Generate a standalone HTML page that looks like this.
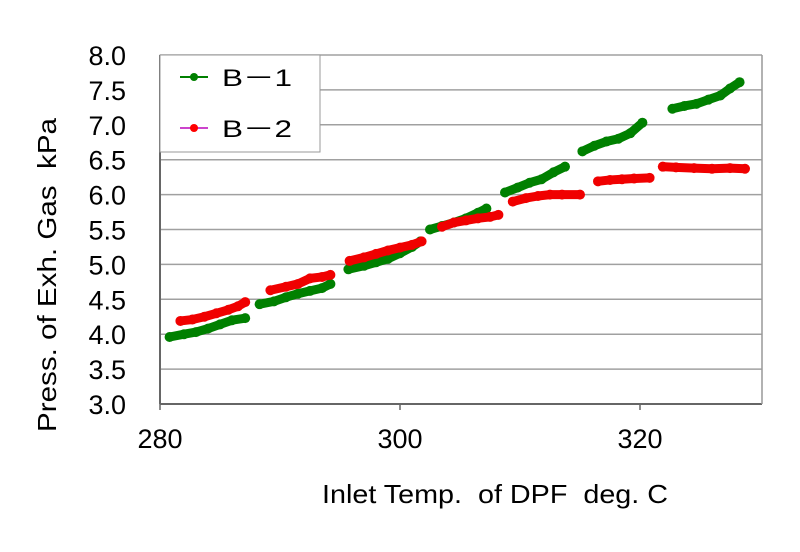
<!DOCTYPE html>
<html><head><meta charset="utf-8"><style>
body{margin:0;background:#fff;}
svg{display:block;font-family:"Liberation Sans","Noto Sans CJK JP",sans-serif;}
</style></head><body>
<svg id="chart" width="800" height="552">
<g id="grid"></g>
<g id="series"></g>
<g id="axes"></g>
<g>
<rect x="160" y="55" width="160" height="97" fill="#fff" stroke="#999" stroke-width="1"/>
<g><line x1="180" y1="77" x2="208" y2="77" stroke="#008000" stroke-width="2"/><circle cx="194" cy="77" r="4" fill="#008000"/><text x="222" y="86" font-size="24" textLength="70" lengthAdjust="spacingAndGlyphs" fill="#000">B－1</text></g>
<g><line x1="180" y1="128" x2="208" y2="128" stroke="#cc44cc" stroke-width="2"/><circle cx="194" cy="128" r="4" fill="#ff0000"/><text x="222" y="137" font-size="24" textLength="70" lengthAdjust="spacingAndGlyphs" fill="#000">B－2</text></g>
</g>
<text x="322" y="503" font-size="26" textLength="346" lengthAdjust="spacingAndGlyphs">Inlet Temp.&#160; of DPF&#160; deg. C</text>
<text transform="translate(56,432) rotate(-90)" font-size="26" textLength="314" lengthAdjust="spacingAndGlyphs">Press. of Exh. Gas&#160; kPa</text>
</svg>
<script>
const yTicks=[3.0,3.5,4.0,4.5,5.0,5.5,6.0,6.5,7.0,7.5,8.0];
const xTicks=[280,300,320];
const b1Segments=[
 [[280.8,3.96],[282,4.0],[283,4.03],[284,4.08],[285,4.14],[286,4.2],[287.1,4.23]],
 [[288.3,4.43],[289.5,4.47],[290.5,4.53],[291.5,4.58],[292.5,4.62],[293.5,4.66],[294.2,4.72]],
 [[295.7,4.93],[297,4.98],[298,5.03],[299,5.08],[300,5.16],[301,5.25],[301.7,5.33]],
 [[302.5,5.5],[303.5,5.55],[304.5,5.6],[305.5,5.66],[306.5,5.74],[307.2,5.8]],
 [[308.75,6.03],[309.8,6.1],[310.8,6.17],[311.8,6.22],[312.8,6.32],[313.75,6.4]],
 [[315.2,6.62],[316.2,6.7],[317.2,6.76],[318.2,6.8],[319.2,6.88],[320.2,7.03]],
 [[322.7,7.23],[323.7,7.27],[324.7,7.3],[325.7,7.36],[326.7,7.42],[327.5,7.52],[328.3,7.61]]
];
const b2Segments=[
 [[281.7,4.19],[282.7,4.21],[283.7,4.25],[284.7,4.3],[285.7,4.35],[286.5,4.4],[287.1,4.46]],
 [[289.2,4.63],[290.5,4.68],[291.5,4.72],[292.5,4.8],[293.5,4.82],[294.2,4.85]],
 [[295.8,5.05],[297,5.1],[298,5.15],[299,5.2],[300,5.24],[301,5.28],[301.8,5.33]],
 [[303.5,5.54],[304.5,5.6],[305.5,5.63],[306.5,5.66],[307.5,5.68],[308.2,5.71]],
 [[309.4,5.9],[310.5,5.95],[311.5,5.98],[312.5,6.0],[313.5,6.0],[315,6.0]],
 [[316.5,6.19],[317.5,6.21],[318.5,6.22],[319.5,6.23],[320.8,6.24]],
 [[321.9,6.4],[323,6.39],[324.5,6.38],[326,6.37],[327.5,6.38],[328.75,6.37]]
];
const NS="http://www.w3.org/2000/svg";
const X0=160,X1=762,Y0=404,Y1=55;
const xScale=t=>X0+(t-280)*12;
const yScale=p=>Y0-(p-3)*(Y0-Y1)/5;
function mk(tag,attrs,parent){const e=document.createElementNS(NS,tag);for(const k in attrs)e.setAttribute(k,attrs[k]);parent.appendChild(e);return e;}
const grid=document.getElementById('grid'),axes=document.getElementById('axes'),ser=document.getElementById('series');
yTicks.forEach(v=>{
 const y=yScale(v);
 const l=mk('line',{x1:X0,x2:X1,y1:y,y2:y,stroke:'#a0a0a0','stroke-width':1.5},grid);
 
 
 const t=mk('text',{x:126,y:y+10,'font-size':27,'text-anchor':'end'},axes);
 t.textContent=v.toFixed(1);
 
 
});
xTicks.forEach(v=>{
 const x=xScale(v);
 mk('line',{x1:x,x2:x,y1:Y0,y2:Y0+6,stroke:'#666','stroke-width':1.5},axes);
 const t=mk('text',{x:x,y:448,'font-size':27,'text-anchor':'middle'},axes);
 t.textContent=v;
 
 
});
const la=mk('line',{x1:X0,x2:X0,y1:Y1,y2:Y0,stroke:'#666','stroke-width':2},axes);


const ba=mk('line',{x1:X0,x2:X1,y1:Y0,y2:Y0,stroke:'#666','stroke-width':2},axes);


mk('line',{x1:X1,x2:X1,y1:Y1,y2:Y0,stroke:'#999','stroke-width':1.5},axes);
function draw(segs,color,name){
 segs.forEach(seg=>{
  const pts=seg.map(p=>xScale(p[0])+','+yScale(p[1])).join(' ');
  const pl=mk('polyline',{points:pts,fill:'none',stroke:color,'stroke-width':9,'stroke-linecap':'round','stroke-linejoin':'round'},ser);
  
  
  seg.forEach(p=>{
   const c=mk('circle',{cx:xScale(p[0]),cy:yScale(p[1]),r:5,fill:color},ser);
   
   
  });
 });
}
draw(b1Segments,'#008000','b1');
draw(b2Segments,'#f00000','b2');
</script>
</body></html>
